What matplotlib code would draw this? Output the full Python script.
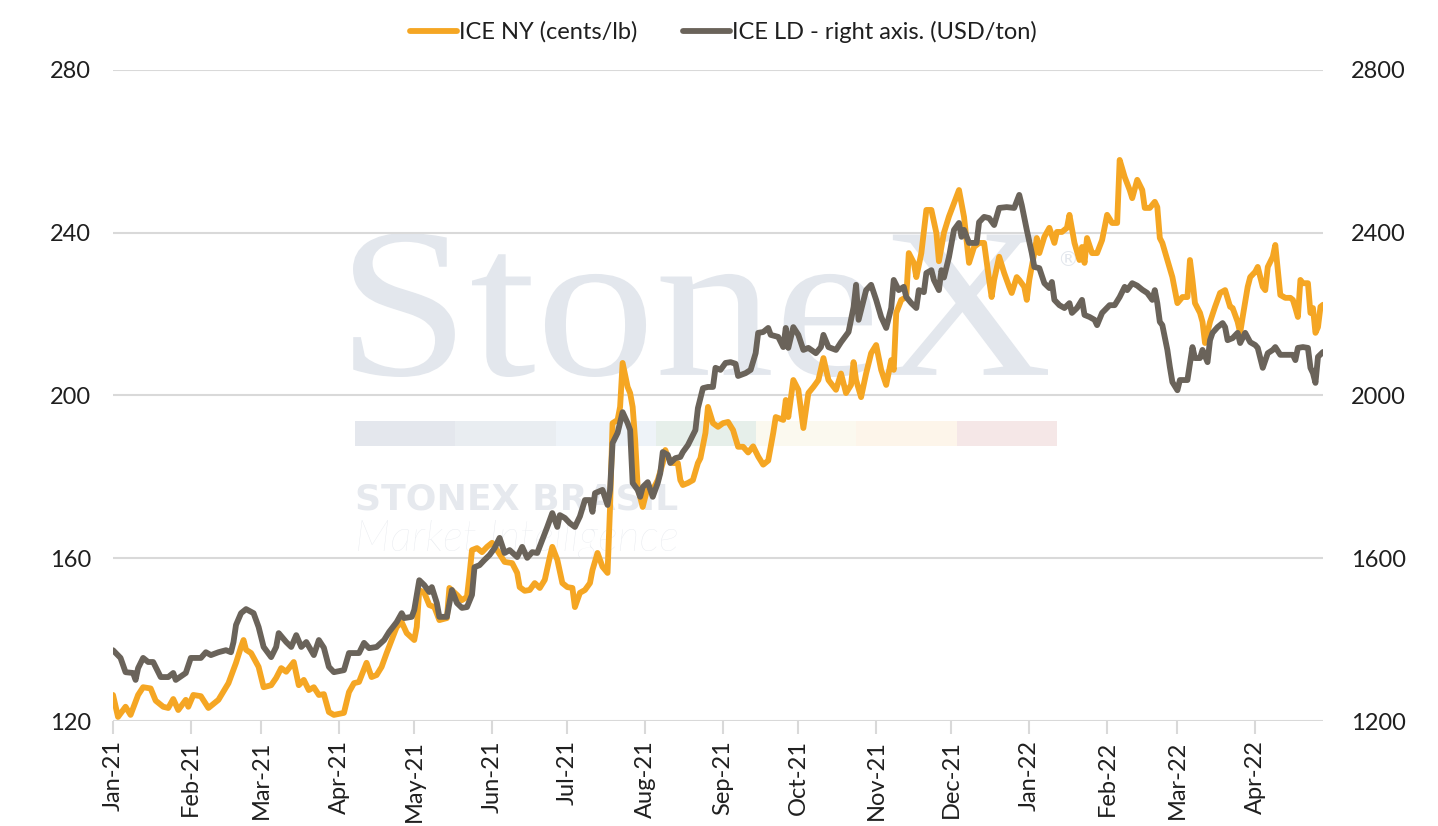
import datetime as dt
import matplotlib
matplotlib.use("Agg")
import matplotlib.pyplot as plt
from matplotlib.patches import Rectangle, PathPatch
from matplotlib.textpath import TextPath
from matplotlib.font_manager import FontProperties
from matplotlib.transforms import Affine2D

# ---------------- data (days since 2021-01-01, values) ----------------
START = dt.date(2021, 1, 1)

ny_days = [0, 2, 5, 7, 10, 12, 15, 17, 20, 22, 24, 26, 29, 30, 32, 35, 38, 42, 46, 49,
           51, 52, 53, 55, 58, 60, 63, 65, 67, 69, 72, 74, 76, 78, 80, 82, 84, 86, 88, 92,
           94, 96, 98, 101, 103, 105, 107, 109, 111, 113, 115, 117, 120, 121, 122, 124, 126, 128, 130, 133,
           134, 137, 139, 141, 142, 143, 145, 147, 149, 151, 153, 156, 159, 161, 162, 164, 166, 168, 170, 172,
           174, 175, 177, 179, 181, 183, 184, 186, 188, 190, 191, 193, 195, 197, 198, 199, 201, 202, 203, 205,
           206, 207, 208, 209, 211, 212, 213, 215, 217, 219, 220, 221, 223, 225, 226, 227, 229, 231, 233, 234,
           236, 237, 239, 241, 243, 245, 247, 249, 251, 253, 255, 257, 259, 261, 263, 264, 267, 268, 269, 271,
           273, 275, 277, 279, 281, 283, 285, 288, 290, 292, 294, 295, 296, 298, 300, 302, 304, 306, 308, 310,
           311, 312, 314, 316, 317, 319, 320, 322, 324, 326, 328, 329, 331, 333, 337, 339, 341, 343, 345, 347,
           349, 350, 351, 353, 355, 357, 358, 360, 361, 363, 364, 365, 367, 368, 369, 371, 373, 375, 376, 378,
           380, 381, 383, 385, 386, 387, 388, 390, 392, 394, 396, 398, 400, 401, 403, 405, 406, 408, 410, 411,
           413, 415, 416, 417, 418, 420, 422, 424, 426, 428, 429, 430, 431, 433, 434, 435, 437, 439, 441, 443,
           445, 446, 448, 449, 450, 452, 453, 455, 456, 458, 459, 460, 462, 463, 464, 465, 467, 469, 470, 471,
           472, 473, 474, 476, 477, 478, 479, 480, 481, 482]
ny_vals = [126.4, 121.0, 123.5, 121.5, 126.4, 128.3, 128.0, 125.0, 123.5, 123.2, 125.4, 122.7, 125.2, 123.5, 126.4, 126.1, 123.2, 125.2, 129.3, 134.3,
           138.2, 139.9, 137.5, 136.7, 133.3, 128.3, 128.8, 130.6, 133.0, 132.1, 134.5, 128.8, 130.1, 127.6, 128.3, 126.4, 126.6, 122.2, 121.5, 122.0,
           127.1, 129.3, 129.6, 134.3, 130.8, 131.3, 133.3, 136.7, 139.9, 143.1, 144.3, 141.6, 139.9, 143.1, 152.2, 151.5, 148.5, 148.0, 144.8, 145.3,
           152.7, 151.0, 149.7, 150.5, 155.9, 162.0, 162.5, 161.5, 162.8, 163.8, 162.0, 159.1, 158.8, 156.4, 152.9, 152.0, 152.2, 153.9, 152.7, 154.7,
           160.3, 162.8, 159.6, 153.9, 152.9, 152.7, 148.0, 151.5, 152.2, 153.9, 157.1, 161.3, 157.9, 156.4, 172.6, 193.2, 194.0, 197.2, 208.0, 202.1,
           200.6, 197.2, 189.1, 177.5, 172.6, 175.1, 177.5, 176.8, 179.2, 183.4, 186.6, 184.9, 183.4, 183.4, 179.2, 178.0, 178.5, 179.2, 183.4, 184.6,
           190.8, 197.2, 193.2, 192.3, 193.2, 193.5, 191.5, 187.4, 187.4, 186.0, 187.5, 185.0, 183.0, 184.0, 190.8, 194.7, 194.0, 198.9, 194.7, 203.8,
           201.4, 192.0, 200.6, 202.1, 203.8, 209.2, 203.8, 201.4, 205.4, 200.6, 202.6, 208.2, 203.8, 199.6, 205.4, 210.4, 212.4, 206.3, 202.6, 208.7,
           206.3, 220.3, 223.5, 224.2, 235.0, 232.6, 229.1, 235.0, 245.6, 245.6, 239.9, 233.0, 240.0, 244.0, 250.5, 243.9, 232.6, 236.5, 237.5, 237.5,
           228.4, 224.2, 228.4, 234.1, 230.1, 226.7, 225.2, 229.1, 228.4, 226.7, 223.5, 228.4, 235.0, 238.7, 235.0, 239.0, 241.2, 237.5, 240.2, 240.2,
           241.2, 244.4, 237.5, 233.3, 236.5, 232.6, 238.7, 235.0, 235.0, 238.2, 244.4, 242.4, 242.4, 257.9, 253.7, 250.5, 248.5, 253.0, 250.5, 246.1,
           246.1, 247.6, 246.3, 238.7, 237.5, 233.3, 229.1, 222.7, 224.2, 224.2, 233.3, 228.4, 222.7, 220.3, 218.1, 212.9, 218.1, 221.8, 225.2, 225.9,
           221.8, 221.5, 218.1, 215.4, 219.3, 226.7, 229.1, 230.4, 231.6, 226.7, 225.9, 231.6, 234.1, 237.0, 230.9, 224.7, 224.0, 224.0, 223.5, 221.5,
           219.3, 228.4, 227.6, 227.6, 220.3, 221.5, 215.4, 216.8, 221.8, 222.3]

ld_days = [0, 3, 5, 8, 9, 10, 12, 14, 16, 19, 22, 24, 25, 29, 31, 35, 37, 39, 42, 45,
           47, 48, 49, 51, 53, 56, 58, 60, 63, 65, 66, 69, 71, 73, 75, 77, 80, 82, 84, 86,
           88, 92, 94, 98, 100, 102, 105, 108, 110, 113, 115, 116, 119, 120, 122, 124, 126, 127, 129, 130,
           133, 135, 137, 139, 141, 143, 144, 146, 148, 150, 152, 154, 156, 158, 161, 163, 165, 167, 169, 171,
           173, 175, 177, 178, 180, 182, 184, 186, 188, 190, 191, 192, 195, 197, 198, 199, 201, 203, 205, 206,
           207, 209, 210, 211, 213, 215, 217, 218, 219, 221, 222, 224, 226, 227, 229, 231, 232, 233, 235, 237,
           239, 240, 242, 244, 246, 248, 249, 252, 254, 256, 257, 259, 261, 262, 265, 267, 268, 269, 271, 273,
           275, 277, 280, 282, 283, 285, 288, 290, 293, 295, 296, 297, 298, 300, 302, 304, 306, 308, 310, 311,
           313, 315, 316, 318, 320, 321, 323, 324, 326, 327, 329, 330, 331, 333, 335, 337, 338, 339, 341, 344,
           345, 347, 349, 351, 353, 356, 359, 361, 362, 364, 366, 367, 369, 371, 373, 374, 375, 377, 379, 381,
           382, 384, 386, 387, 389, 391, 392, 394, 397, 399, 401, 403, 404, 406, 408, 410, 412, 414, 415, 416,
           417, 418, 420, 421, 422, 424, 425, 427, 428, 430, 431, 433, 434, 436, 437, 438, 440, 442, 443, 444,
           446, 448, 449, 451, 453, 455, 456, 458, 460, 462, 463, 465, 467, 470, 471, 472, 474, 476, 477, 478,
           479, 480, 482]
ld_vals = [1374, 1355, 1320, 1318, 1301, 1330, 1355, 1345, 1345, 1308, 1308, 1318, 1301, 1318, 1355, 1355, 1369, 1362, 1369, 1374,
           1369, 1394, 1436, 1465, 1475, 1465, 1431, 1382, 1357, 1382, 1416, 1394, 1382, 1411, 1382, 1394, 1362, 1399, 1380, 1333,
           1320, 1325, 1367, 1367, 1392, 1379, 1382, 1399, 1419, 1443, 1465, 1453, 1456, 1473, 1546, 1534, 1517, 1529, 1490, 1456,
           1456, 1522, 1490, 1478, 1480, 1510, 1578, 1583, 1596, 1608, 1625, 1650, 1613, 1620, 1603, 1628, 1601, 1615, 1613, 1645,
           1677, 1711, 1677, 1706, 1699, 1686, 1677, 1703, 1743, 1743, 1714, 1760, 1768, 1731, 1768, 1883, 1908, 1959, 1932, 1915,
           1785, 1768, 1751, 1775, 1787, 1751, 1785, 1809, 1861, 1854, 1834, 1846, 1849, 1861, 1878, 1903, 1915, 1969, 2018, 2021,
           2021, 2068, 2063, 2080, 2082, 2078, 2048, 2055, 2063, 2104, 2154, 2156, 2166, 2149, 2144, 2119, 2166, 2117, 2168, 2149,
           2112, 2117, 2104, 2119, 2149, 2119, 2112, 2131, 2156, 2217, 2272, 2186, 2210, 2259, 2272, 2235, 2193, 2166, 2215, 2284,
           2259, 2267, 2242, 2227, 2215, 2259, 2254, 2301, 2308, 2284, 2259, 2308, 2290, 2340, 2407, 2424, 2390, 2407, 2375, 2375,
           2426, 2439, 2436, 2419, 2461, 2463, 2461, 2493, 2468, 2407, 2350, 2316, 2313, 2276, 2264, 2279, 2235, 2222, 2215, 2227,
           2203, 2215, 2235, 2198, 2193, 2186, 2173, 2203, 2222, 2222, 2242, 2267, 2259, 2276, 2270, 2260, 2252, 2235, 2259, 2227,
           2181, 2173, 2112, 2070, 2033, 2013, 2038, 2038, 2038, 2119, 2092, 2092, 2112, 2082, 2136, 2154, 2168, 2178, 2168, 2136,
           2141, 2154, 2129, 2154, 2131, 2124, 2117, 2068, 2104, 2112, 2119, 2100, 2100, 2100, 2087, 2117, 2119, 2117, 2068, 2055,
           2031, 2095, 2107]

month_labels = ["Jan-21", "Feb-21", "Mar-21", "Apr-21", "May-21", "Jun-21", "Jul-21", "Aug-21",
                "Sep-21", "Oct-21", "Nov-21", "Dec-21", "Jan-22", "Feb-22", "Mar-22", "Apr-22"]
left_ticks = [120, 160, 200, 240, 280]
right_ticks = [1200, 1600, 2000, 2400, 2800]

# ---------------- styling ----------------
YELLOW = "#F5A623"
GRAY = "#6A635A"
GRID = "#D9D9D9"
TXT = "#1F1F1F"
WM = "#E3E7ED"
FONT = ["Lato", "DejaVu Sans"]
FS = 17

plt.rcParams["font.family"] = FONT

W, H = 1438, 826
fig = plt.figure(figsize=(W / 100, H / 100), dpi=100)
L, R, T, B = 113, 1323, 70, 721
ax1 = fig.add_axes([L / W, 1 - B / H, (R - L) / W, (B - T) / H])
ax2 = ax1.twinx()


def ax_frac(px, py):
    return (px - L) / (R - L), (B - py) / (B - T)


ny_dates = [START + dt.timedelta(days=d) for d in ny_days]
ld_dates = [START + dt.timedelta(days=d) for d in ld_days]

# ---- watermark (behind gridlines) ----
tp = TextPath((0, 0), "StoneX", size=100, prop=FontProperties(family="Liberation Serif"))
ext = tp.get_extents()
tx0, tx1, ty_top, ty_bot = 353, 1048, 233, 377
sxk = (tx1 - tx0) / ext.width
syk = (ty_bot - ty_top) / ext.height
wm_tr = Affine2D().translate(-ext.x0, -ext.y0).scale(sxk, syk).translate(tx0, H - ty_bot)
wm_patch = PathPatch(tp, facecolor=WM, edgecolor="none", transform=wm_tr, zorder=0.1)
ax1.add_artist(wm_patch)

xr, yr = ax_frac(1068, 260)
ax1.text(xr, yr, "®", transform=ax1.transAxes, fontsize=15, family="DejaVu Sans",
         color=WM, va="center", ha="center", zorder=0.1)
bar_cols = ["#E4E7ED", "#E9EDF1", "#EEF3F8", "#E6EFEA", "#FBF9EF", "#FDF5EA", "#F5E7E7"]
seg_w = (1057 - 355) / len(bar_cols)
for i, c in enumerate(bar_cols):
    bx, by = ax_frac(355 + i * seg_w, 446)
    ax1.add_patch(Rectangle((bx, by), seg_w / (R - L), 25 / (B - T), transform=ax1.transAxes,
                            facecolor=c, edgecolor="none", zorder=0.1))
sx, sy = ax_frac(355, 510)
ax1.text(sx, sy, "STONEX BRASIL", transform=ax1.transAxes, fontsize=26, family="DejaVu Sans",
         fontweight="bold", color="#E6E9EE", va="baseline", ha="left", zorder=0.1)
mx, my = ax_frac(355, 551)
ax1.text(mx, my, "Market Intelligence", transform=ax1.transAxes, fontsize=31, family="Lato",
         fontstyle="italic", fontweight="light", color="#E6E9EE", va="baseline", ha="left", zorder=0.1)

# ---- lines ----
l1, = ax1.plot(ny_dates, ny_vals, color=YELLOW, lw=4.2, solid_joinstyle="round",
               solid_capstyle="round", zorder=3, label="ICE NY (cents/lb)")
l2, = ax2.plot(ld_dates, ld_vals, color=GRAY, lw=4.2, solid_joinstyle="round",
               solid_capstyle="round", zorder=3, label="ICE LD - right axis. (USD/ton)")

# ---- axes ----
ax1.set_ylim(120, 280)
ax2.set_ylim(1200, 2800)
ax1.set_xlim(START, START + dt.timedelta(days=482))
ax1.set_yticks(left_ticks)
ax2.set_yticks(right_ticks)
month_starts = [dt.date(2021 + (m // 12), m % 12 + 1, 1) for m in range(len(month_labels))]
ax1.set_xticks(month_starts)
ax1.set_xticklabels(month_labels, rotation=90, fontsize=FS, color=TXT)
ax1.set_yticklabels([str(v) for v in left_ticks], fontsize=FS, color=TXT)
ax2.set_yticklabels([str(v) for v in right_ticks], fontsize=FS, color=TXT)

ax1.set_axisbelow(True)
ax1.grid(axis="y", color=GRID, lw=1.5, zorder=0.5)
ax1.grid(axis="x", visible=False)
for ax in (ax1, ax2):
    for s in ax.spines.values():
        s.set_visible(False)
ax1.tick_params(axis="y", length=0, pad=16)
ax2.tick_params(axis="y", length=0, pad=20)
ax1.tick_params(axis="x", length=9, width=1.5, color=GRID, pad=5)

# ---- legend ----
fig.legend(handles=[l1, l2], loc="center", bbox_to_anchor=(0.503, 1 - 32 / H), ncol=2,
           frameon=False, fontsize=FS, handlelength=2.0, handletextpad=0.1,
           columnspacing=1.9, labelcolor=TXT)

fig.savefig("out.png", dpi=100)
